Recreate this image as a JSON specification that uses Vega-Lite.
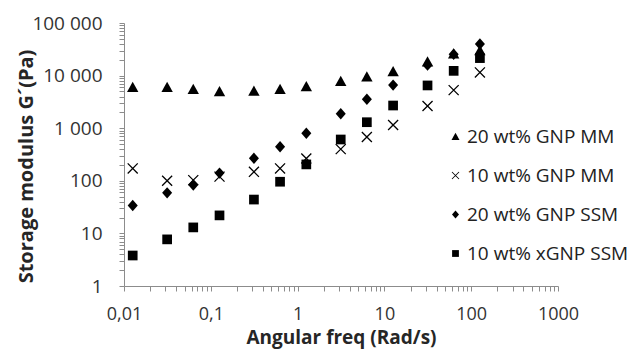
{
  "$schema": "https://vega.github.io/schema/vega-lite/v6.json",
  "width": 434,
  "height": 263,
  "autosize": {"type": "none"},
  "padding": {"left": 124, "top": 23, "right": 75, "bottom": 65},
  "background": "white",
  "config": {"view": {"stroke": null}, "font": "Open Sans"},
  "datasets": {
    "pts": [
      {"series": "20 wt% GNP MM", "freq": 0.0126, "g": 6000},
      {"series": "20 wt% GNP MM", "freq": 0.0314, "g": 6000},
      {"series": "20 wt% GNP MM", "freq": 0.0628, "g": 5500},
      {"series": "20 wt% GNP MM", "freq": 0.126, "g": 5000},
      {"series": "20 wt% GNP MM", "freq": 0.314, "g": 5100},
      {"series": "20 wt% GNP MM", "freq": 0.628, "g": 5500},
      {"series": "20 wt% GNP MM", "freq": 1.26, "g": 6200},
      {"series": "20 wt% GNP MM", "freq": 3.14, "g": 7800},
      {"series": "20 wt% GNP MM", "freq": 6.28, "g": 9500},
      {"series": "20 wt% GNP MM", "freq": 12.6, "g": 12000},
      {"series": "20 wt% GNP MM", "freq": 31.4, "g": 18500},
      {"series": "20 wt% GNP MM", "freq": 62.8, "g": 26000},
      {"series": "20 wt% GNP MM", "freq": 126, "g": 30000},
      {"series": "10 wt% GNP MM", "freq": 0.0126, "g": 172},
      {"series": "10 wt% GNP MM", "freq": 0.0314, "g": 100},
      {"series": "10 wt% GNP MM", "freq": 0.0628, "g": 103},
      {"series": "10 wt% GNP MM", "freq": 0.126, "g": 120},
      {"series": "10 wt% GNP MM", "freq": 0.314, "g": 148},
      {"series": "10 wt% GNP MM", "freq": 0.628, "g": 172},
      {"series": "10 wt% GNP MM", "freq": 1.26, "g": 265},
      {"series": "10 wt% GNP MM", "freq": 3.14, "g": 400},
      {"series": "10 wt% GNP MM", "freq": 6.28, "g": 680},
      {"series": "10 wt% GNP MM", "freq": 12.6, "g": 1150},
      {"series": "10 wt% GNP MM", "freq": 31.4, "g": 2650},
      {"series": "10 wt% GNP MM", "freq": 62.8, "g": 5300},
      {"series": "10 wt% GNP MM", "freq": 126, "g": 11500},
      {"series": "20 wt% GNP SSM", "freq": 0.0126, "g": 34},
      {"series": "20 wt% GNP SSM", "freq": 0.0314, "g": 59},
      {"series": "20 wt% GNP SSM", "freq": 0.0628, "g": 83},
      {"series": "20 wt% GNP SSM", "freq": 0.126, "g": 140},
      {"series": "20 wt% GNP SSM", "freq": 0.314, "g": 268},
      {"series": "20 wt% GNP SSM", "freq": 0.628, "g": 445},
      {"series": "20 wt% GNP SSM", "freq": 1.26, "g": 800},
      {"series": "20 wt% GNP SSM", "freq": 3.14, "g": 1880},
      {"series": "20 wt% GNP SSM", "freq": 6.28, "g": 3550},
      {"series": "20 wt% GNP SSM", "freq": 12.6, "g": 6600},
      {"series": "20 wt% GNP SSM", "freq": 31.4, "g": 15800},
      {"series": "20 wt% GNP SSM", "freq": 62.8, "g": 25500},
      {"series": "20 wt% GNP SSM", "freq": 126, "g": 40000},
      {"series": "10 wt% xGNP SSM", "freq": 0.0126, "g": 3.8},
      {"series": "10 wt% xGNP SSM", "freq": 0.0314, "g": 7.7},
      {"series": "10 wt% xGNP SSM", "freq": 0.0628, "g": 13},
      {"series": "10 wt% xGNP SSM", "freq": 0.126, "g": 22},
      {"series": "10 wt% xGNP SSM", "freq": 0.314, "g": 44},
      {"series": "10 wt% xGNP SSM", "freq": 0.628, "g": 96},
      {"series": "10 wt% xGNP SSM", "freq": 1.26, "g": 205},
      {"series": "10 wt% xGNP SSM", "freq": 3.14, "g": 610},
      {"series": "10 wt% xGNP SSM", "freq": 6.28, "g": 1300},
      {"series": "10 wt% xGNP SSM", "freq": 12.6, "g": 2700},
      {"series": "10 wt% xGNP SSM", "freq": 31.4, "g": 6500},
      {"series": "10 wt% xGNP SSM", "freq": 62.8, "g": 12300},
      {"series": "10 wt% xGNP SSM", "freq": 126, "g": 21500}
    ]
  },
  "data": {"name": "pts"},
  "mark": {"type": "point", "filled": true, "size": 130, "opacity": 1, "color": "black", "strokeWidth": 0},
  "encoding": {
    "x": {
      "field": "freq",
      "type": "quantitative",
      "scale": {"type": "log", "domain": [0.01, 1000], "nice": false},
      "axis": {
        "title": "Angular freq (Rad/s)",
        "values": [0.01, 0.02, 0.03, 0.04, 0.05, 0.06, 0.07, 0.08, 0.09, 0.1, 0.2, 0.3, 0.4, 0.5, 0.6, 0.7, 0.8, 0.9, 1, 2, 3, 4, 5, 6, 7, 8, 9, 10, 20, 30, 40, 50, 60, 70, 80, 90, 100, 200, 300, 400, 500, 600, 700, 800, 900, 1000],
        "labelExpr": "datum.value == 0.01 ? '0,01' : datum.value == 0.1 ? '0,1' : datum.value == 1 ? '1' : datum.value == 10 ? '10' : datum.value == 100 ? '100' : datum.value == 1000 ? '1000' : ''",
        "grid": false,
        "domainColor": "#8c8c8c",
        "tickColor": "#8c8c8c",
        "tickSize": 5,
        "labelFont": "Open Sans",
        "labelFontSize": 18,
        "labelColor": "#333333",
        "labelPadding": 14,
        "labelFlush": false,
        "labelOverlap": false,
        "titleFont": "Open Sans",
        "titleFontWeight": "bold",
        "titleFontSize": 19,
        "titleColor": "#262626",
        "titleBaseline": "alphabetic",
        "titleY": 57
      }
    },
    "y": {
      "field": "g",
      "type": "quantitative",
      "scale": {"type": "log", "domain": [1, 100000], "nice": false},
      "axis": {
        "title": "Storage modulus G´(Pa)",
        "values": [1, 2, 3, 4, 5, 6, 7, 8, 9, 10, 20, 30, 40, 50, 60, 70, 80, 90, 100, 200, 300, 400, 500, 600, 700, 800, 900, 1000, 2000, 3000, 4000, 5000, 6000, 7000, 8000, 9000, 10000, 20000, 30000, 40000, 50000, 60000, 70000, 80000, 90000, 100000],
        "labelExpr": "datum.value == 1 ? '1' : datum.value == 10 ? '10' : datum.value == 100 ? '100' : datum.value == 1000 ? '1 000' : datum.value == 10000 ? '10 000' : datum.value == 100000 ? '100 000' : ''",
        "grid": false,
        "domainColor": "#8c8c8c",
        "tickColor": "#8c8c8c",
        "tickSize": 5,
        "labelFont": "Open Sans",
        "labelFontSize": 19,
        "labelColor": "#333333",
        "labelPadding": 17,
        "labelOverlap": false,
        "labelFlush": false,
        "titleFont": "Open Sans",
        "titleFontWeight": "bold",
        "titleFontSize": 20,
        "titleColor": "#262626",
        "titleBaseline": "alphabetic",
        "titleX": -92,
        "titleY": 143
      }
    },
    "shape": {
      "field": "series",
      "type": "nominal",
      "sort": null,
      "scale": {
        "domain": ["20 wt% GNP MM", "10 wt% GNP MM", "20 wt% GNP SSM", "10 wt% xGNP SSM"],
        "range": [
          "M0,-0.95L1,0.85L-1,0.85Z",
          "M-0.8,-0.96L0.96,0.8L0.8,0.96L-0.96,-0.8ZM0.8,-0.96L0.96,-0.8L-0.8,0.96L-0.96,0.8Z",
          "M0,-1L0.88,0L0,1L-0.88,0Z",
          "M-0.85,-0.85L0.85,-0.85L0.85,0.85L-0.85,0.85Z"
        ]
      },
      "legend": {
        "orient": "none",
        "legendX": 322,
        "legendY": 104,
        "title": null,
        "padding": 0,
        "labelFont": "Open Sans",
        "labelFontSize": 19,
        "labelColor": "#222222",
        "labelOffset": 2,
        "labelLimit": 0,
        "rowPadding": 19,
        "symbolSize": 64,
        "symbolFillColor": "black",
        "symbolStrokeWidth": 0,
        "symbolOpacity": 1
      }
    }
  }
}
